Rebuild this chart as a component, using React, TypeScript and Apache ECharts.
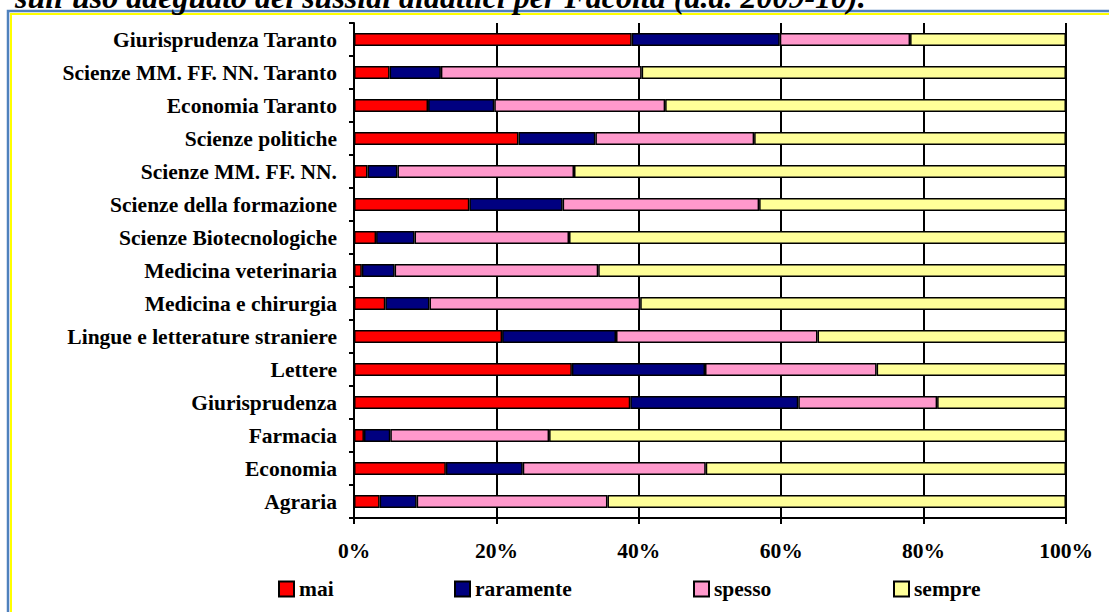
import React, { useEffect, useRef } from "react";
import * as echarts from "echarts";

const categories = [
  "Agraria",
  "Economia",
  "Farmacia",
  "Giurisprudenza",
  "Lettere",
  "Lingue e letterature straniere",
  "Medicina e chirurgia",
  "Medicina veterinaria",
  "Scienze Biotecnologiche",
  "Scienze della formazione",
  "Scienze MM. FF. NN.",
  "Scienze politiche",
  "Economia Taranto",
  "Scienze MM. FF. NN. Taranto",
  "Giurisprudenza Taranto",
];

const mai = [3.6, 12.9, 1.4, 38.8, 30.6, 20.8, 4.4, 1.1, 3.1, 16.2, 1.9, 23.1, 10.4, 5.0, 39.0];
const raramente = [5.2, 10.8, 3.7, 23.6, 18.7, 16.0, 6.2, 4.6, 5.4, 13.1, 4.2, 10.8, 9.3, 7.2, 20.8];
const spesso = [26.8, 25.7, 22.3, 19.5, 24.1, 28.3, 29.6, 28.6, 21.7, 27.6, 24.8, 22.3, 24.0, 28.2, 18.3];
const sempre = [64.4, 50.6, 72.6, 18.1, 26.6, 34.9, 59.8, 65.7, 69.8, 43.1, 69.1, 43.8, 56.3, 59.6, 21.9];

const seriesNames = ["mai", "raramente", "spesso", "sempre"];
const seriesColors = ["#FF0000", "#000080", "#FF99CC", "#FFFF99"];
const seriesData = [mai, raramente, spesso, sempre];
const xTicks = [0, 20, 40, 60, 80, 100];

const FONT = "'Liberation Serif', 'Times New Roman', serif";
const FS = 21.5;

export default function App() {
  const ref = useRef<HTMLDivElement>(null);
  useEffect(() => {
    if (!ref.current) return;
    const chart = echarts.init(ref.current, null, { renderer: "svg" });
    const legendLefts = [278, 454, 693, 893];
    chart.setOption({
      animation: false,
      backgroundColor: "#ffffff",
      textStyle: { fontFamily: FONT },
      grid: { left: 354, right: 43, top: 23, bottom: 94, containLabel: false },
      xAxis: {
        type: "value",
        min: xTicks[0],
        max: xTicks[xTicks.length - 1],
        interval: 20,
        axisLine: { show: true, lineStyle: { color: "#000", width: 2 } },
        axisTick: { show: true, inside: false, length: 6, lineStyle: { color: "#000", width: 2 } },
        splitLine: { show: true, lineStyle: { color: "#000", width: 2 } },
        axisLabel: {
          formatter: "{value}%",
          color: "#000",
          fontFamily: FONT,
          fontWeight: "bold",
          fontSize: FS,
          margin: 22,
        },
      },
      yAxis: {
        type: "category",
        data: categories,
        axisLine: { show: true, lineStyle: { color: "#000", width: 2 } },
        axisTick: { show: true, inside: false, length: 5, lineStyle: { color: "#000", width: 2 } },
        splitLine: { show: false },
        axisLabel: {
          color: "#000",
          fontFamily: FONT,
          fontWeight: "bold",
          fontSize: FS,
          margin: 17,
        },
      },
      legend: seriesNames.map((n, i) => ({
        data: [n],
        left: legendLefts[i],
        top: 578,
        itemWidth: 15,
        itemHeight: 15,
        itemGap: 4,
        padding: 0,
        icon: "rect",
        itemStyle: { borderColor: "#000", borderWidth: 2 },
        textStyle: { color: "#000", fontFamily: FONT, fontWeight: "bold", fontSize: FS },
        selectedMode: false,
      })),
      series: seriesNames.map((n, i) => ({
        name: n,
        type: "bar",
        stack: "total",
        data: seriesData[i],
        barWidth: 13,
        itemStyle: { color: seriesColors[i], borderColor: "#000", borderWidth: 1.5 },
      })),
      graphic: [
        {
          type: "rect",
          shape: { x: 8, y: 11, width: 1300, height: 800 },
          style: { fill: "none", stroke: "#4F81BD", lineWidth: 2.5 },
          silent: true,
        },
        {
          type: "rect",
          shape: { x: 11, y: 14, width: 1300, height: 800 },
          style: { fill: "none", stroke: "#FFFF00", lineWidth: 2 },
          silent: true,
        },
        {
          type: "text",
          x: 15,
          y: 13,
          style: {
            text: "sull'uso adeguato dei sussidi didattici per Facoltà (a.a. 2009-10).",
            font: "italic bold 32px 'Liberation Serif', 'Times New Roman', serif",
            fill: "#000",
            verticalAlign: "bottom",
          },
          silent: true,
        },
      ],
    });
    return () => chart.dispose();
  }, []);
  return (
    <div
      ref={ref}
      style={{ position: "absolute", left: 0, top: 0, width: 1109, height: 612 }}
    />
  );
}
